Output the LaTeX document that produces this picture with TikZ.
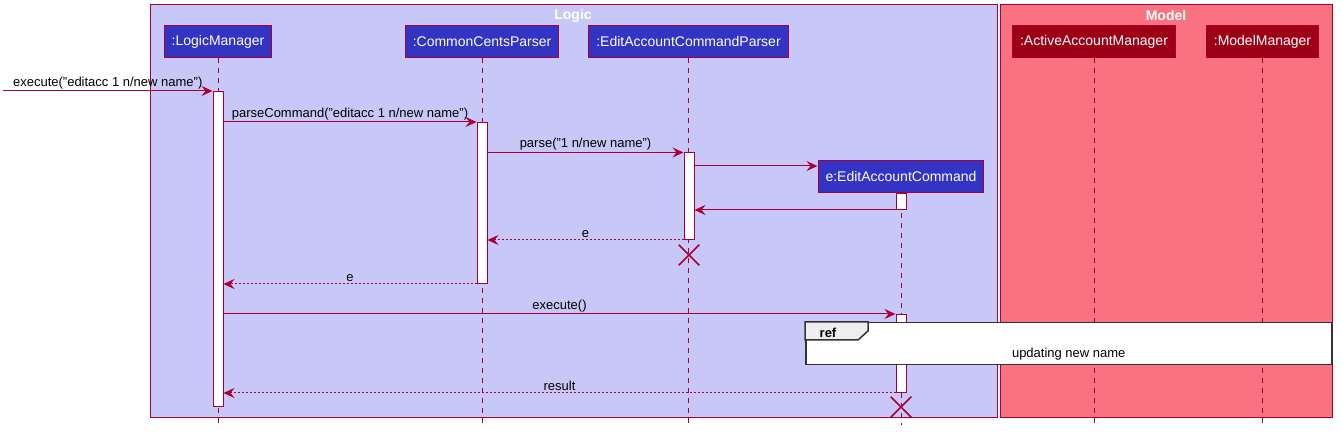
\documentclass[tikz,border=0pt]{standalone}
\usepackage{fontspec}
\setmainfont{Liberation Sans}
\usetikzlibrary{positioning,arrows.meta,calc,shapes.misc}

\definecolor{umlred}{HTML}{A80036}
\definecolor{logicbg}{HTML}{C8C8F8}
\definecolor{modelbg}{HTML}{F97281}
\definecolor{logicpart}{HTML}{3333C4}
\definecolor{modelpart}{HTML}{9D0016}
\definecolor{tabgrey}{HTML}{EEEEEE}

\begin{document}
\begin{tikzpicture}[x=1pt,y=-1pt,>={Stealth[length=11pt,width=10pt,inset=4pt]},
  group/.style={draw=umlred,line width=1pt},
  grouptitle/.style={text=white,font=\fontsize{14}{16}\selectfont\bfseries},
  part/.style={draw=umlred,line width=1pt,text=white,minimum height=32pt,inner xsep=7.5pt,font=\fontsize{14}{16}\selectfont},
  life/.style={draw=umlred,line width=1pt,dash pattern=on 5pt off 5pt},
  act/.style={draw=umlred,fill=white,line width=1pt,minimum width=10pt,inner sep=0pt,anchor=north},
  msg/.style={->,draw=umlred,line width=1pt},
  ret/.style={->,draw=umlred,line width=1pt,dash pattern=on 2pt off 2pt},
  lbl/.style={above,inner sep=1.5pt,font=\fontsize{13}{15}\selectfont},
  kill/.style={cross out,draw=umlred,line width=1.5pt,minimum size=19pt,inner sep=0pt},
  refbox/.style={draw=black!80,fill=white,line width=1.5pt,anchor=north west}]
\useasboundingbox (0,0) rectangle (1342,435);

% package boxes
\draw[group,fill=logicbg] (150,4.5) rectangle (997,418);
\draw[group,fill=modelbg] (1000,4.5) rectangle (1332,418);
\node[grouptitle] (logic) at (573,15.5) {Logic};
\node[grouptitle] (model) at (1166,15.5) {Model};

% participants
\node[part,fill=logicpart] (lm) at (218,42) {:LogicManager};
\node[part,fill=logicpart] (cp) at (482,42) {:CommonCentsParser};
\node[part,fill=logicpart] (ep) at (688.5,42) {:EditAccountCommandParser};
\node[part,fill=modelpart] (am) at (1094,42) {:ActiveAccountManager};
\node[part,fill=modelpart] (mm) at (1262.5,42) {:ModelManager};

\foreach \p in {lm,cp,ep,am,mm}
  \draw[life] (\p.south) -- ++(0,367);

% activations
\node[act,minimum height=315pt] (alm) at (218,91) {};
\node[act,minimum height=161pt] (acp) at (482,122) {};
\node[act,minimum height=86.5pt] (aep) at (689,152.5) {};

\coordinate (in) at (3,91);
\draw[msg] (in) -- (alm.north west)
  node[lbl,midway] {execute("editacc 1 n/new name")};
\draw[msg] (alm.east |- acp.north) -- (acp.north west)
  node[lbl,midway] {parseCommand("editacc 1 n/new name")};
\draw[msg] (acp.east |- aep.north) -- (aep.north west)
  node[lbl,midway] {parse("1 n/new name")};

% created command
\node[part,fill=logicpart] (e) at (901,176.5) {e:EditAccountCommand};
\draw[life] (e.south) -- ++(0,232);
\coordinate (mk) at ([yshift=-6pt]e.north west);
\draw[msg] (aep.east |- mk) -- (mk);
\node[act,minimum height=16pt] (ae1) at (901,193) {};
\draw[msg] (ae1.south west) -- (aep.east |- ae1.south);

\draw[ret] (aep.south west) -- (acp.east |- aep.south) node[lbl,midway] {e};
\node[kill] (x1) at ([yshift=-15pt]aep.south) {};
\draw[ret] (acp.south west) -- (alm.east |- acp.south) node[lbl,midway] {e};

\node[act,minimum height=78pt] (ae2) at (901,314) {};
\draw[msg] (alm.east |- ae2.north) -- (ae2.north west) node[lbl,midway] {execute()};

% ref frame
\node[refbox,minimum width=526pt,minimum height=42pt] (ref) at (805,322) {};
\draw[draw=black!80,fill=tabgrey,line width=1.5pt] (ref.north west) -- ++(63,0) -- ++(0,9) -- ++(-10,9) -- ++(-53,0) -- cycle;
\node[font=\fontsize{13}{15}\selectfont\bfseries] (reft) at ($(ref.north west)+(23,10.5)$) {ref};
\node[font=\fontsize{13}{15}\selectfont] (refl) at ($(ref.south)+(0,-11)$) {updating new name};

\draw[ret] (ae2.south west) -- (alm.east |- ae2.south) node[lbl,midway] {result};
\node[kill] (x2) at ([yshift=-14pt]ae2.south) {};
\end{tikzpicture}
\end{document}
